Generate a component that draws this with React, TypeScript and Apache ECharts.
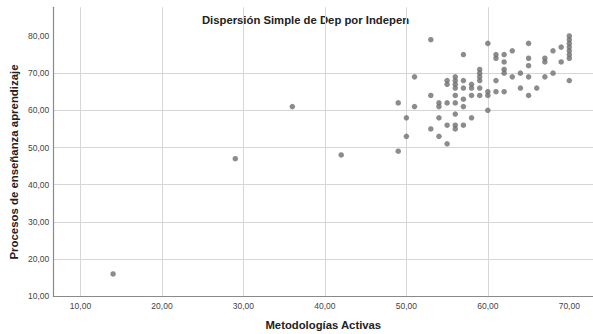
import React, { useEffect, useRef } from "react";
import * as echarts from "echarts";

const titleText = "Dispersión Simple de Dep por Indepen";
const xAxisName = "Metodologías Activas";
const yAxisName = "Procesos de enseñanza aprendizaje";

const xTicks = [10, 20, 30, 40, 50, 60, 70];
const yTicks = [10, 20, 30, 40, 50, 60, 70, 80];

// Metodologías Activas (x) and Procesos de enseñanza aprendizaje (y)
const xValues = [
  14, 29, 36, 42,
  49, 49,
  50, 50,
  51, 51,
  53, 53, 53,
  54, 54, 54, 54,
  55, 55, 55, 55, 55,
  56, 56, 56, 56, 56, 56, 56, 56, 56,
  57, 57, 57, 57, 57, 57,
  58, 58, 58, 58,
  59, 59, 59, 59, 59, 59,
  60, 60, 60, 60,
  61, 61, 61, 61,
  62, 62, 62, 62, 62,
  63, 63,
  64, 64,
  65, 65, 65, 65, 65,
  66,
  67, 67, 67,
  68, 68,
  69, 69,
  70, 70, 70, 70, 70, 70, 70, 70,
];
const yValues = [
  16, 47, 61, 48,
  62, 49,
  58, 53,
  69, 61,
  79, 64, 55,
  62, 61, 58, 53,
  68, 67, 62, 56, 51,
  69, 68, 67, 66, 64, 62, 59, 56, 55,
  75, 68, 66, 63, 61, 56,
  67, 66, 64, 58,
  71, 70, 69, 68, 66, 64,
  78, 65, 64, 60,
  75, 74, 68, 65,
  75, 73, 71, 70, 65,
  76, 69,
  70, 66,
  78, 74, 72, 69, 64,
  66,
  74, 73, 69,
  76, 70,
  77, 73,
  80, 79, 78, 77, 76, 75, 74, 68,
];

const fmt = (v: number) => Number(v).toFixed(2).replace(".", ",");
const FONT = "Liberation Sans, Arial, sans-serif";

export default function App() {
  const ref = useRef<HTMLDivElement>(null);
  useEffect(() => {
    if (!ref.current) return;
    const chart = echarts.init(ref.current, undefined, { renderer: "svg" });
    const data = xValues.map((x, i) => [x, yValues[i]]);
    chart.setOption({
      animation: false,
      backgroundColor: "#ffffff",
      textStyle: { fontFamily: FONT },
      graphic: [
        {
          type: "text",
          x: 305.5,
          y: 20,
          style: {
            text: titleText,
            fontSize: 11.3,
            fontWeight: "bold",
            fontFamily: FONT,
            fill: "#222",
            align: "center",
            verticalAlign: "middle",
          },
        },
        {
          type: "text",
          x: 14,
          y: 162,
          rotation: Math.PI / 2,
          style: {
            text: yAxisName,
            fontSize: 11.4,
            fontWeight: "bold",
            fontFamily: FONT,
            fill: "#222",
            align: "center",
            verticalAlign: "middle",
          },
        },
      ],
      grid: {
        left: 53.3,
        top: 7.3,
        width: 560,
        bottom: 37.7,
        containLabel: false,
        outerBoundsMode: "none",
      },
      xAxis: {
        type: "value",
        min: 6.66,
        max: 75.4,
        name: xAxisName,
        nameLocation: "start",
        nameGap: -270,
        nameTextStyle: { fontSize: 11.3, fontWeight: "bold", color: "#222", align: "center", verticalAlign: "top", padding: [23, 0, 0, 0] },
        axisLine: { show: true, lineStyle: { color: "#8a8a8a", width: 1.2 } },
        axisTick: { show: false, customValues: xTicks },
        axisLabel: { customValues: xTicks, formatter: fmt, fontSize: 8.5, color: "#444", margin: 5 },
        splitLine: { show: true, showMaxLine: false, lineStyle: { color: "#d6d6d6", width: 1 } },
      },
      yAxis: {
        type: "value",
        min: 10,
        max: 87.7,
        axisLine: { show: true, lineStyle: { color: "#8a8a8a", width: 1.2 } },
        axisTick: { show: false, customValues: yTicks },
        axisLabel: { customValues: yTicks, formatter: fmt, fontSize: 8.5, color: "#444", margin: 4 },
        splitLine: { show: true, showMaxLine: false, lineStyle: { color: "#d6d6d6", width: 1 } },
      },
      series: [
        {
          type: "scatter",
          data,
          symbol: "circle",
          symbolSize: 5.5,
          itemStyle: { color: "#6f6f6f" },
        },
      ],
    });
    return () => chart.dispose();
  }, []);
  return (
    <div
      ref={ref}
      style={{ position: "fixed", left: 0, top: 0, width: 593, height: 334, background: "#fff" }}
    />
  );
}
